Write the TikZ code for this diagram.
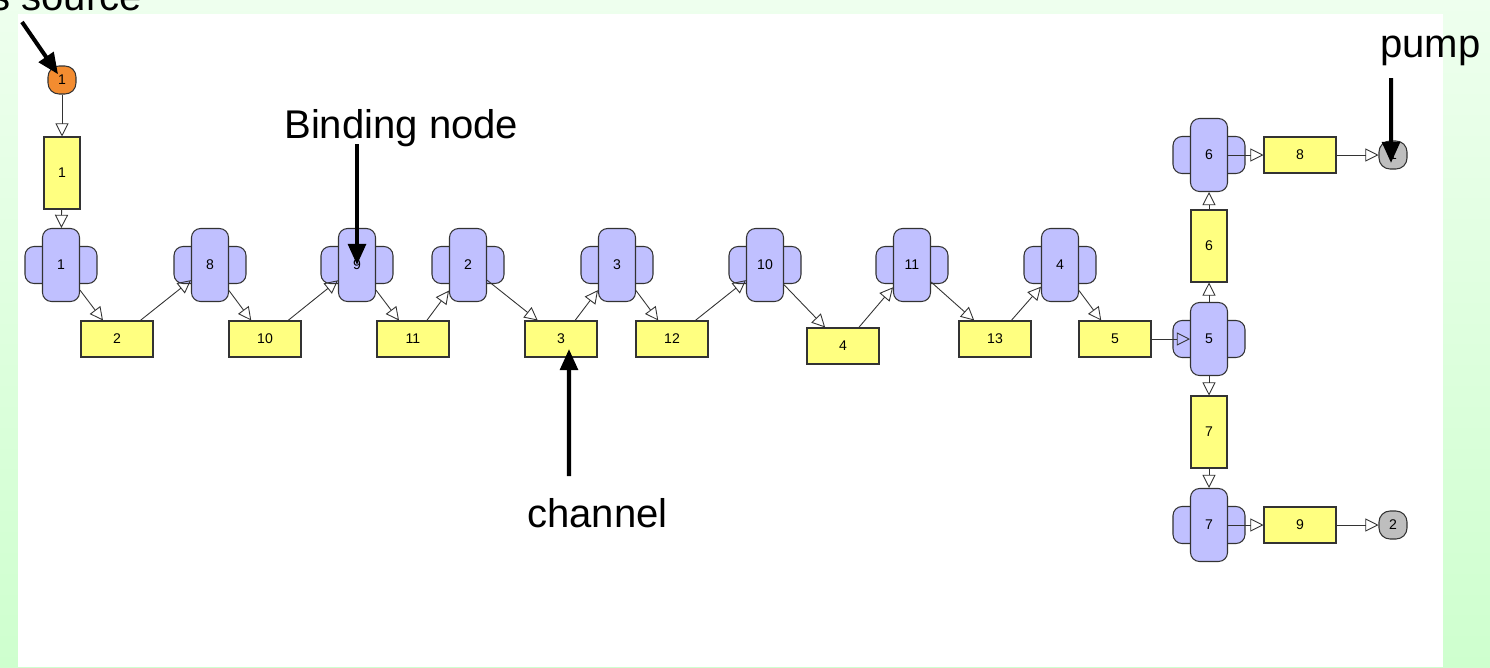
\documentclass[tikz,border=0pt]{standalone}
\usepackage{fontspec}
\setmainfont{Liberation Sans}
\usetikzlibrary{arrows.meta}

\begin{document}
\begin{tikzpicture}[x=0.02cm, y=-0.02cm,
  chan/.style={draw=black!80, line width=0.6pt, fill=colorCanale, minimum width=1.44cm, minimum height=0.72cm, inner sep=0pt, font=\footnotesize},
  vchan/.style={chan, minimum width=0.72cm, minimum height=1.44cm},
  lobe/.style={draw=black!80, line width=0.6pt, fill=colorNodo, rounded corners=0.18cm, minimum width=1.44cm, minimum height=0.74cm, inner sep=0pt},
  bnode/.style={lobe, minimum width=0.74cm, minimum height=1.46cm, font=\footnotesize},
  port/.style={draw=black!80, line width=0.6pt, rounded corners=0.22cm, minimum size=0.56cm, inner sep=0pt, font=\footnotesize},
  flow/.style={draw=black!80, line width=0.5pt, -{Triangle[open, length=7.5pt, width=7.5pt]}},
  callout/.style={font=\fontsize{22.8pt}{27pt}\selectfont, anchor=base west, inner sep=0pt},
  pointer/.style={line width=2.3pt, -{Triangle[length=12pt, width=10pt]}}
  ]
  % Colori
  \definecolor{colorCanale}{RGB}{255, 255, 128}
  \definecolor{colorNodo}{RGB}{192, 192, 255}
  \definecolor{colorSorgente}{RGB}{243, 140, 48}
  \definecolor{colorPorta}{RGB}{190, 190, 190}
  \definecolor{verdeChiaro}{RGB}{238, 255, 238}
  \definecolor{verdeScuro}{RGB}{206, 255, 206}

  % Sfondo
  \useasboundingbox (0,0) rectangle (1490,667);
  \fill[top color=verdeChiaro, bottom color=verdeScuro] (0,0) rectangle (1490,667);
  \fill[white] (18,14) rectangle (1443,667);

  % Sorgente e uscite
  \node[port, fill=colorSorgente] (src) at (62,80) {1};
  \node[port, fill=colorPorta] (pump) at (1393,155) {1};
  \node[port, fill=colorPorta] (sink) at (1393,525) {2};

  % Lobi dei nodi
  \node[lobe] (l1) at (61,265) {};
  \node[lobe] (l8) at (210,265) {};
  \node[lobe] (l9) at (357,265) {};
  \node[lobe] (l2) at (468,265) {};
  \node[lobe] (l3) at (617,265) {};
  \node[lobe] (l10) at (765,265) {};
  \node[lobe] (l11) at (912,265) {};
  \node[lobe] (l4) at (1060,265) {};
  \node[lobe] (l5) at (1209,339) {};
  \node[lobe] (l6) at (1209,155) {};
  \node[lobe] (l7) at (1209,525) {};

  % Nodi
  \node[bnode] (n1) at (l1) {1};
  \node[bnode] (n8) at (l8) {8};
  \node[bnode] (n9) at (l9) {9};
  \node[bnode] (n2) at (l2) {2};
  \node[bnode] (n3) at (l3) {3};
  \node[bnode] (n10) at (l10) {10};
  \node[bnode] (n11) at (l11) {11};
  \node[bnode] (n4) at (l4) {4};
  \node[bnode] (n5) at (l5) {5};
  \node[bnode] (n6) at (l6) {6};
  \node[bnode] (n7) at (l7) {7};

  % Canali
  \node[vchan] (c1) at (62,173) {1};
  \node[chan] (c2) at (117,339) {2};
  \node[chan] (c10) at (265,339) {10};
  \node[chan] (c11) at (413,339) {11};
  \node[chan] (c3) at (561,339) {3};
  \node[chan] (c12) at (672,339) {12};
  \node[chan] (c4) at (843,346) {4};
  \node[chan] (c13) at (995,339) {13};
  \node[chan] (c5) at (1115,339) {5};
  \node[vchan] (c6) at (1209,246) {6};
  \node[vchan] (c7) at (1209,432) {7};
  \node[chan] (c8) at (1300,155) {8};
  \node[chan] (c9) at (1300,525) {9};

  % Collegamenti
  \draw[flow] (src) -- (c1);
  \draw[flow] (c1) -- (n1);
  \draw[flow] (n1) -- (c2);
  \draw[flow] (c2) -- (n8);
  \draw[flow] (n8) -- (c10);
  \draw[flow] (c10) -- (n9);
  \draw[flow] (n9) -- (c11);
  \draw[flow] (c11) -- (n2);
  \draw[flow] (n2) -- (c3);
  \draw[flow] (c3) -- (n3);
  \draw[flow] (n3) -- (c12);
  \draw[flow] (c12) -- (n10);
  \draw[flow] (n10) -- (c4);
  \draw[flow] (c4) -- (n11);
  \draw[flow] (n11) -- (c13);
  \draw[flow] (c13) -- (n4);
  \draw[flow] (n4) -- (c5);
  \draw[flow] (c5) -- (n5);
  \draw[flow] (n5) -- (c6);
  \draw[flow] (c6) -- (n6);
  \draw[flow] (n6) -- (c8);
  \draw[flow] (c8) -- (pump);
  \draw[flow] (n5) -- (c7);
  \draw[flow] (c7) -- (n7);
  \draw[flow] (n7) -- (c9);
  \draw[flow] (c9) -- (sink);

  % Didascalie
  \node[callout] (tSrc) at (-10,10) {s source};
  \node[callout] (tBind) at (284,138) {Binding node};
  \node[callout] (tChan) at (527,527) {channel};
  \node[callout] (tPump) at (1380,57) {pump};

  \coordinate (srcTail) at (22,22);
  \coordinate (bindTail) at (357,144);
  \coordinate (chanTail) at (569,476);
  \coordinate (pumpTail) at (1391,78);
  \draw[pointer, shorten >=0.14cm] (srcTail) -- (src.center);
  \draw[pointer] (bindTail) -- (n9.center);
  \draw[pointer] (chanTail) -- ([xshift=0.16cm, yshift=-0.2cm]c3.center);
  \draw[pointer] (pumpTail) -- ([xshift=-0.04cm, yshift=-0.16cm]pump.center);
\end{tikzpicture}
\end{document}
